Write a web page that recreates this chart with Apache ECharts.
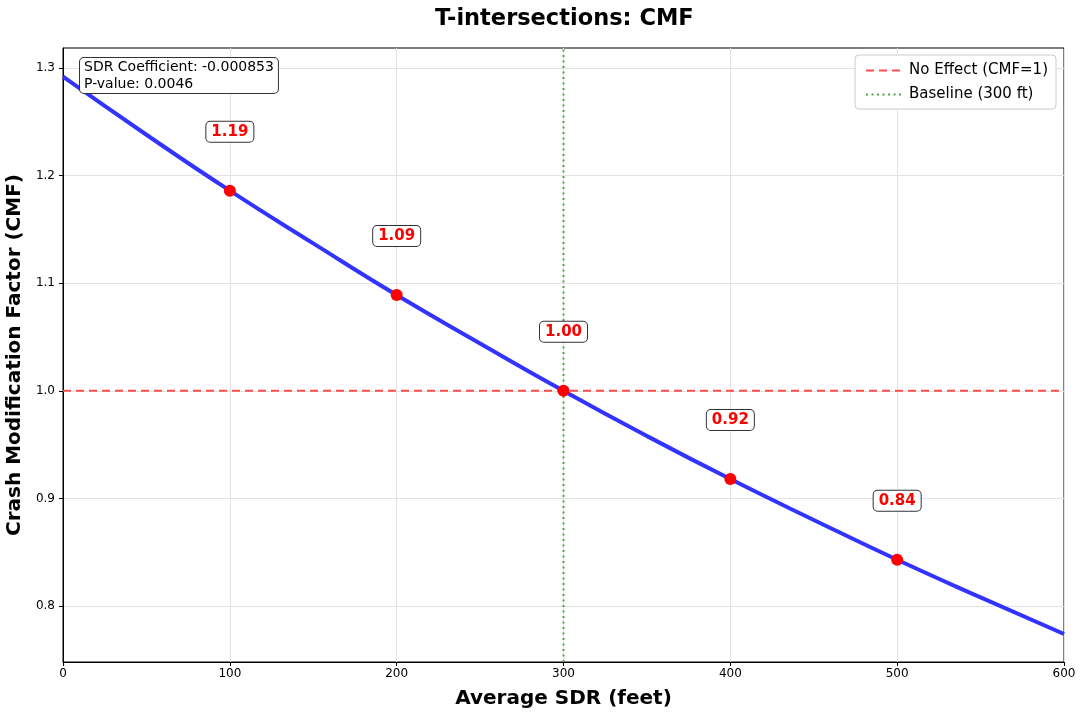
<!DOCTYPE html>
<html>
<head>
<meta charset="utf-8">
<script src="https://cdn.jsdelivr.net/npm/echarts@6/dist/echarts.min.js"></script>
<style>html,body{margin:0;padding:0;background:#fff;}#c{width:1080px;height:712px;}</style>
</head>
<body>
<div id="c"></div>
<script>
// Curve values
const curveSDR = [0, 50, 100, 150, 200, 250, 300, 350, 400, 450, 500, 550, 600];
const curveCMF = [1.292, 1.238, 1.186, 1.137, 1.089, 1.044, 1.000, 0.958, 0.918, 0.880, 0.843, 0.808, 0.774];
// Highlighted points
const pointSDR = [100, 200, 300, 400, 500];
const pointCMF = [1.186, 1.089, 1.000, 0.918, 0.843];
const pointLabels = ['1.19', '1.09', '1.00', '0.92', '0.84'];
const yTicks = [0.8, 0.9, 1.0, 1.1, 1.2, 1.3];
const xTicks = [0, 100, 200, 300, 400, 500, 600];
const yMin = 0.748, yMax = 1.3186;
const baselineSDR = 300;
const noEffectCMF = 1;
const annotation = 'SDR Coefficient: -0.000853\nP-value: 0.0046';

const font = 'DejaVu Sans';
const chart = echarts.init(document.getElementById('c'), null, {renderer: 'canvas'});
chart.setOption({
  backgroundColor: '#fff',
  animation: false,
  textStyle: {fontFamily: font},
  title: {
    text: 'T-intersections: CMF', left: 430, top: 3,
    textStyle: {fontFamily: font, fontSize: 22.5, fontWeight: 'bold', color: '#000'}
  },
  grid: {left: 63, right: 16, top: 48, bottom: 50, show: true, borderColor: '#000', borderWidth: 1,
    containLabel: false, outerBoundsMode: 'none'},
  legend: {
    right: 24, top: 55, orient: 'vertical', itemGap: 9,
    data: ['No Effect (CMF=1)', 'Baseline (300 ft)'],
    itemWidth: 38, itemHeight: 12,
    itemStyle: {opacity: 0},
    backgroundColor: '#fff', borderColor: '#ccc', borderWidth: 1, borderRadius: 4, padding: [8, 8, 7, 10],
    textStyle: {fontFamily: font, fontSize: 15, color: '#000'}
  },
  xAxis: {
    type: 'value', min: xTicks[0], max: xTicks[xTicks.length - 1], interval: 100,
    name: 'Average SDR (feet)', nameLocation: 'middle', nameGap: 27,
    nameTextStyle: {fontFamily: font, fontSize: 20, fontWeight: 'bold', color: '#000'},
    axisLine: {show: true, onZero: false, lineStyle: {color: '#000'}},
    axisTick: {show: true, length: 4, lineStyle: {color: '#000'}},
    axisLabel: {fontFamily: font, fontSize: 12, color: '#000', margin: 6},
    splitLine: {show: true, lineStyle: {color: '#e3e3e3', width: 1}}
  },
  yAxis: {
    type: 'value', min: yMin, max: yMax,
    name: 'Crash Modification Factor (CMF)', nameLocation: 'middle', nameGap: 31,
    nameTextStyle: {fontFamily: font, fontSize: 20, fontWeight: 'bold', color: '#000'},
    axisLine: {show: true, onZero: false, lineStyle: {color: '#000'}},
    axisTick: {show: true, length: 4, lineStyle: {color: '#000'}, customValues: yTicks},
    axisLabel: {fontFamily: font, fontSize: 12, color: '#000', margin: 8, customValues: yTicks,
      formatter: v => v.toFixed(1)},
    splitLine: {show: true, lineStyle: {color: '#e3e3e3', width: 1}}
  },
  graphic: [{
    type: 'text', left: 79, top: 57, z: 100,
    style: {
      text: annotation, fontFamily: font, fontSize: 14, lineHeight: 17, fill: '#000',
      backgroundColor: '#fff', borderColor: '#333', borderWidth: 1, borderRadius: 4, padding: [1, 4, 0, 4]
    }
  }],
  series: [
    {
      name: 'CMF curve', type: 'line', smooth: true, symbol: 'none', z: 3,
      data: curveSDR.map((x, i) => [x, curveCMF[i]]),
      lineStyle: {color: '#3333ff', width: 4}
    },
    {
      name: 'No Effect (CMF=1)', type: 'line', symbol: 'none', z: 2,
      data: [[xTicks[0], noEffectCMF], [xTicks[xTicks.length - 1], noEffectCMF]],
      lineStyle: {color: '#ff4d4d', width: 2, type: [8, 5]}, itemStyle: {color: '#ff4d4d'}
    },
    {
      name: 'Baseline (300 ft)', type: 'line', symbol: 'none', z: 2,
      data: [[baselineSDR, yMin], [baselineSDR, yMax]],
      lineStyle: {color: '#4da64d', width: 2, type: [2, 3.5]}, itemStyle: {color: '#4da64d'}
    },
    {
      name: 'Points', type: 'scatter', symbolSize: 12, z: 5,
      itemStyle: {color: '#ff0000', opacity: 1},
      data: pointSDR.map((x, i) => [x, pointCMF[i]]),
      label: {
        show: true, position: 'inside', offset: [0, -59],
        formatter: p => pointLabels[p.dataIndex],
        fontFamily: font, fontSize: 15, fontWeight: 'bold', color: '#ff0000', opacity: 1,
        backgroundColor: '#fff', borderColor: '#333', borderWidth: 1, borderRadius: 4, padding: [3, 5, 2, 5]
      }
    }
  ]
});
</script>
</body>
</html>
